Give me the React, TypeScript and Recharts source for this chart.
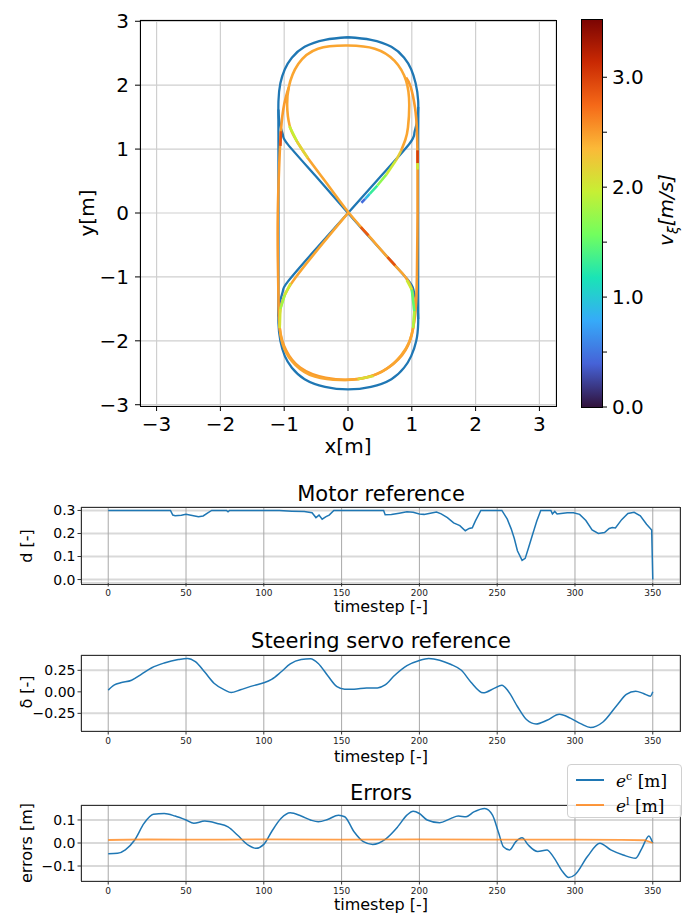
import React from "react";
import { LineChart, Line, BarChart, Bar, XAxis, YAxis, CartesianGrid } from "recharts";

type Pt = [number, number];

const FONT = "'DejaVu Sans', sans-serif";
const BLUE = "#1f77b4";
const ORANGE = "#ff7f0e";

// ---------- xy plot: reference path (blue) ----------
const refLoop: Pt[] = [
  [0, 2.75], [0.36, 2.71], [0.68, 2.6], [0.88, 2.43], [0.99, 2.25], [1.06, 2.03], [1.1, 1.75],
  [1.1, 1.2], [1.1, 0], [1.1, -1.2], [1.1, -1.72], [1.07, -2.0], [0.99, -2.24], [0.88, -2.42],
  [0.68, -2.6], [0.36, -2.72], [0, -2.76], [-0.36, -2.72], [-0.68, -2.6],
  [-0.88, -2.42], [-0.99, -2.24], [-1.06, -2.0], [-1.09, -1.72], [-1.09, -1.2],
  [-1.09, 0], [-1.09, 1.2], [-1.09, 1.75], [-1.06, 2.03], [-0.99, 2.25], [-0.88, 2.43],
  [-0.68, 2.6], [-0.36, 2.71], [0, 2.75],
];
const refDiagA: Pt[] = [
  [-1.09, 1.62], [-1.07, 1.4], [-1.02, 1.22], [-0.94, 1.07], [-0.5, 0.57], [0, 0],
  [0.5, -0.56], [0.94, -1.05], [1.03, -1.22], [1.08, -1.42], [1.1, -1.66],
];
const refDiagB: Pt[] = [
  [-1.09, -1.62], [-1.07, -1.4], [-1.02, -1.22], [-0.94, -1.07], [-0.5, -0.56], [0, 0],
  [0.5, 0.56], [0.96, 1.08], [1.04, 1.25], [1.08, 1.42], [1.1, 1.66],
];

// ---------- xy plot: driven trajectory, with speed v [m/s] ----------
const trajFigure8: Pt[] = [
  [0.83, 0.97], [0.9, 1.15], [0.94, 1.34], [0.96, 1.7], [0.91, 2.07], [0.73, 2.38], [0.42, 2.57],
  [0, 2.62], [-0.47, 2.57], [-0.78, 2.33], [-0.93, 1.96], [-0.95, 1.6], [-0.9, 1.32],
  [-0.8, 1.12], [-0.63, 0.86], [-0.3, 0.42], [0, 0.02], [0.31, -0.34], [0.68, -0.76],
  [0.89, -0.99], [1.0, -1.2], [1.04, -1.54], [1.02, -1.8], [0.96, -2.02], [0.83, -2.23],
  [0.52, -2.49], [0, -2.61], [-0.52, -2.56], [-0.83, -2.37], [-1.0, -2.12], [-1.07, -1.8],
  [-1.06, -1.5], [-0.99, -1.28], [-0.83, -1.02], [-0.4, -0.48], [0, 0],
];
const trajOuter: Pt[] = [
  [-0.93, 1.96], [-1.0, 1.7], [-1.05, 1.3], [-1.08, 0.7], [-1.1, 0], [-1.1, -0.7],
  [-1.09, -1.3], [-1.07, -1.8], [-0.97, -2.15], [-0.75, -2.42], [-0.35, -2.58], [0.15, -2.6],
  [0.55, -2.47], [0.85, -2.22], [1.0, -1.9], [1.06, -1.5], [1.08, -1.0], [1.09, 0],
  [1.09, 0.8], [1.08, 1.3], [1.05, 1.65], [0.98, 1.98], [0.91, 2.12],
];
const trajFigure8Speed = 2.45;
const trajOuterSpeed = 2.5;

// short pieces where the speed differs from the bulk
const speedPieces: { pts: Pt[]; v: number }[] = [
  { pts: [[0.21, 0.16], [0.27, 0.22]], v: 0.45 },
  { pts: [[0.27, 0.22], [0.34, 0.3]], v: 0.9 },
  { pts: [[0.34, 0.3], [0.46, 0.43]], v: 1.3 },
  { pts: [[0.46, 0.43], [0.6, 0.6]], v: 1.7 },
  { pts: [[0.6, 0.6], [0.75, 0.82]], v: 2.0 },
  { pts: [[0.75, 0.82], [0.83, 0.97]], v: 2.2 },
  { pts: [[-0.92, 1.36], [-0.8, 1.12]], v: 1.95 },
  { pts: [[-0.8, 1.12], [-0.63, 0.86]], v: 2.15 },
  { pts: [[-1.05, 1.28], [-1.06, 1.05]], v: 2.9 },
  { pts: [[1.09, 0.98], [1.09, 0.78]], v: 3.0 },
  { pts: [[1.09, 0.78], [1.09, 0.68]], v: 2.0 },
  { pts: [[0.2, -0.22], [0.32, -0.35]], v: 2.85 },
  { pts: [[0.62, -0.69], [0.74, -0.82]], v: 2.9 },
  { pts: [[0.92, -1.05], [1.0, -1.2]], v: 2.0 },
  { pts: [[1.0, -1.2], [1.04, -1.54]], v: 1.5 },
  { pts: [[1.04, -1.54], [1.02, -1.8]], v: 1.85 },
  { pts: [[-0.9, -1.1], [-0.99, -1.28]], v: 2.0 },
  { pts: [[-0.99, -1.28], [-1.06, -1.5]], v: 1.8 },
  { pts: [[-1.06, -1.5], [-1.07, -1.8]], v: 2.05 },
  { pts: [[0.15, -2.6], [0.4, -2.55]], v: 2.1 },
];

const xyTicks = [-3, -2, -1, 0, 1, 2, 3];
const cbTicks = [0, 0.5, 1, 1.5, 2, 2.5, 3];
const cbMax = 3.53;
const turbo = ["#30123b", "#4662d7", "#36aaf9", "#1ae4b6", "#72fe5e", "#c7ef34", "#fbb938", "#f56918", "#c92903", "#7a0403"];

// ---------- time series ----------
const motorT = [0, 40, 41.5, 43, 47, 50, 54, 58, 61, 64, 66.5, 76, 77, 78, 110, 118, 126, 131, 133.5, 135.5, 137.5, 140, 142, 145, 177, 178, 182, 187, 192, 196, 200, 203, 207, 211, 214, 218, 222, 226, 229.5, 232, 234, 236, 239.5, 253, 256.5, 259, 261, 263, 266, 268, 270, 272.5, 275.5, 278, 284.5, 285.5, 287, 288.5, 291, 295, 299, 303, 307, 311, 315, 319, 322, 324, 326, 330, 334, 338, 342, 346, 349.3, 350];
const motorD = [0.3, 0.3, 0.28, 0.277, 0.279, 0.283, 0.278, 0.273, 0.276, 0.29, 0.3, 0.3, 0.294, 0.3, 0.3, 0.297, 0.295, 0.29, 0.269, 0.28, 0.262, 0.273, 0.28, 0.3, 0.3, 0.281, 0.282, 0.288, 0.294, 0.292, 0.285, 0.283, 0.288, 0.293, 0.285, 0.269, 0.246, 0.234, 0.212, 0.222, 0.225, 0.255, 0.3, 0.3, 0.262, 0.22, 0.178, 0.125, 0.083, 0.092, 0.135, 0.19, 0.255, 0.3, 0.3, 0.285, 0.296, 0.285, 0.287, 0.29, 0.29, 0.283, 0.256, 0.215, 0.2, 0.204, 0.222, 0.226, 0.224, 0.26, 0.287, 0.292, 0.277, 0.24, 0.215, 0.0];

const steerT = [0, 4, 8, 15, 21, 28, 36, 45, 51, 56, 62, 68, 75, 79, 85, 94, 100, 105, 111, 117, 124, 130, 135, 141, 147, 152, 158, 166, 173, 178, 184, 192, 200, 206, 213, 220, 227, 233, 241, 248, 253, 257, 263, 269, 275, 282, 290, 297, 304, 310, 318, 327, 333, 339, 344, 348.5, 350];
const steerV = [0.02, 0.08, 0.105, 0.135, 0.2, 0.28, 0.335, 0.375, 0.388, 0.35, 0.23, 0.1, 0.02, -0.008, 0.025, 0.075, 0.105, 0.145, 0.23, 0.325, 0.375, 0.385, 0.33, 0.19, 0.06, 0.03, 0.03, 0.045, 0.046, 0.08, 0.19, 0.305, 0.365, 0.387, 0.368, 0.32, 0.25, 0.115, -0.012, 0.04, 0.077, 0.01, -0.17, -0.325, -0.373, -0.33, -0.26, -0.305, -0.373, -0.415, -0.35, -0.155, -0.03, 0.008, -0.02, -0.05, 0.0];

const errCT = [0, 6, 11, 17, 23, 29, 36, 43, 50, 55, 62, 70, 77, 83, 90, 95, 100, 105, 111, 117, 124, 130, 135, 141, 148, 152, 158, 164, 170, 178, 186, 192, 196, 200, 205, 213, 220, 225, 230, 235, 242, 247, 251, 254, 258, 262, 266, 270, 276, 282, 286, 292, 296, 300, 308, 316, 323, 331, 339, 343, 347.5, 349, 350];
const errC = [-0.047, -0.045, -0.03, 0.013, 0.085, 0.125, 0.128, 0.117, 0.1, 0.086, 0.095, 0.085, 0.07, 0.035, -0.009, -0.023, -0.006, 0.049, 0.106, 0.131, 0.117, 0.1, 0.092, 0.102, 0.121, 0.114, 0.049, 0.006, -0.006, 0.016, 0.07, 0.121, 0.138, 0.128, 0.1, 0.088, 0.106, 0.117, 0.114, 0.135, 0.15, 0.121, 0.042, -0.016, -0.03, 0.006, 0.023, -0.009, -0.037, -0.03, -0.059, -0.124, -0.15, -0.138, -0.059, -0.001, -0.03, -0.052, -0.066, -0.023, 0.03, 0.016, 0.0];
const errLT = [0, 25, 50, 75, 100, 150, 200, 250, 300, 330, 345, 350];
const errL = [0.013, 0.016, 0.015, 0.015, 0.016, 0.015, 0.016, 0.015, 0.015, 0.014, 0.012, 0.0];

const timeTicks = [0, 50, 100, 150, 200, 250, 300, 350];

// ---------- helpers ----------
const rowsXY = (pts: Pt[]) => pts.map(([x, y]) => ({ x, y }));
const rowsT = (t: number[], v: number[]) => t.map((tt, i) => ({ t: tt, v: v[i] }));
const minus = (s: string) => s.replace("-", "\u2212");

function turboColor(v: number) {
  const f = Math.max(0, Math.min(1, v / cbMax)) * (turbo.length - 1);
  const i = Math.min(turbo.length - 2, Math.floor(f));
  const k = f - i;
  const a = turbo[i], b = turbo[i + 1];
  const ch = (s: string, p: number) => parseInt(s.slice(p, p + 2), 16);
  const mix = [1, 3, 5].map((p) => Math.round(ch(a, p) + (ch(b, p) - ch(a, p)) * k));
  return `rgb(${mix.join(",")})`;
}

function Txt({ x, y, size, rot = 0, family = FONT, children }: any) {
  return (
    <div
      style={{
        position: "absolute",
        left: x,
        top: y,
        transform: `translate(-50%, -50%) rotate(${rot}deg)`,
        fontSize: size,
        fontFamily: family,
        whiteSpace: "nowrap",
        lineHeight: 1,
        color: "#000",
      }}
    >
      {children}
    </div>
  );
}

function Frame({ x, y, w, h, color = "#000" }: any) {
  return (
    <div
      style={{
        position: "absolute",
        left: x,
        top: y,
        width: w,
        height: h,
        border: `1px solid ${color}`,
        boxSizing: "border-box",
        pointerEvents: "none",
      }}
    />
  );
}

function TrajectoryPlot() {
  const tickStyle = { fill: "#000", fontSize: 20, fontFamily: FONT };
  const common = { dataKey: "y", type: "natural" as const, dot: false, activeDot: false, isAnimationActive: false };
  return (
    <LineChart width={570} height={460} margin={{ top: 20, right: 14, left: 0, bottom: 0 }}>
      <CartesianGrid stroke="#cfcfcf" strokeWidth={1.2} />
      <XAxis
        type="number"
        dataKey="x"
        domain={[-3.26, 3.26]}
        ticks={xyTicks}
        allowDataOverflow
        height={54}
        tickSize={5}
        tickMargin={6}
        axisLine={false}
        tickLine={{ stroke: "#000" }}
        tick={tickStyle}
        tickFormatter={(v) => minus(String(v))}
      />
      <YAxis
        type="number"
        domain={[-3.02, 3.02]}
        ticks={xyTicks}
        allowDataOverflow
        width={140}
        tickSize={5}
        tickMargin={6}
        axisLine={false}
        tickLine={{ stroke: "#000" }}
        tick={tickStyle}
        tickFormatter={(v) => minus(String(v))}
      />
      {[refLoop, refDiagA, refDiagB].map((p, i) => (
        <Line key={"r" + i} data={rowsXY(p)} {...common} stroke={BLUE} strokeWidth={2.3} />
      ))}
      <Line data={rowsXY(trajOuter)} {...common} stroke={turboColor(trajOuterSpeed)} strokeWidth={2.6} />
      <Line data={rowsXY(trajFigure8)} {...common} stroke={turboColor(trajFigure8Speed)} strokeWidth={2.6} />
      {speedPieces.map((s, i) => (
        <Line key={"s" + i} data={rowsXY(s.pts)} {...common} type="linear" stroke={turboColor(s.v)} strokeWidth={2.6} />
      ))}
    </LineChart>
  );
}

function ColorBar() {
  return (
    <BarChart
      width={112}
      height={430}
      data={[{ name: "v", hi: cbMax }]}
      margin={{ top: 19, right: 0, left: 6, bottom: 23 }}
      barCategoryGap={0}
      barGap={0}
    >
      <defs>
        <linearGradient id="turboGrad" x1="0" y1="1" x2="0" y2="0">
          {turbo.map((c, i) => (
            <stop key={c} offset={`${(i / (turbo.length - 1)) * 100}%`} stopColor={c} />
          ))}
        </linearGradient>
      </defs>
      <XAxis dataKey="name" hide />
      <YAxis
        orientation="right"
        type="number"
        domain={[0, cbMax]}
        ticks={cbTicks}
        allowDataOverflow
        width={85}
        tickSize={5}
        tickMargin={5}
        axisLine={false}
        tickLine={{ stroke: "#000" }}
        tick={{ fill: "#000", fontSize: 20, fontFamily: FONT }}
        tickFormatter={(v) => (Number.isInteger(v) ? v.toFixed(1) : "")}
      />
      <Bar dataKey="hi" fill="url(#turboGrad)" isAnimationActive={false} />
    </BarChart>
  );
}

function TimePlot({ domain, ticks, fmt, children }: any) {
  return (
    <LineChart width={687} height={109} margin={{ top: 7, right: 7, left: 0, bottom: 0 }}>
      <CartesianGrid vertical={false} stroke="#d9d9d9" strokeWidth={2} />
      <CartesianGrid horizontal={false} stroke="#a8a8a8" strokeWidth={1} />
      <XAxis
        type="number"
        dataKey="t"
        domain={[-17.5, 367.5]}
        ticks={timeTicks}
        allowDataOverflow
        height={26}
        tickSize={3.5}
        tickMargin={3}
        axisLine={false}
        tickLine={{ stroke: "#333" }}
        tick={{ fill: "#222", fontSize: 9, fontFamily: FONT }}
      />
      <YAxis
        type="number"
        domain={domain}
        ticks={ticks}
        allowDataOverflow
        width={81}
        tickSize={3.5}
        tickMargin={2}
        axisLine={false}
        tickLine={{ stroke: "#333" }}
        tick={{ fill: "#000", fontSize: 14, fontFamily: FONT }}
        tickFormatter={(v) => minus(fmt(v))}
      />
      {children}
    </LineChart>
  );
}

export default function App() {
  return (
    <div style={{ position: "absolute", left: 0, top: 0, width: 687, height: 913, background: "#fff", overflow: "hidden" }}>
      <div style={{ position: "absolute", left: 0, top: 0 }}>
        <TrajectoryPlot />
      </div>
      <Frame x={140} y={20} w={417} h={387} />
      <Txt x={348} y={446} size={20}>x[m]</Txt>
      <Txt x={87} y={213} size={20} rot={-90}>y[m]</Txt>

      <div style={{ position: "absolute", left: 575, top: 0 }}>
        <ColorBar />
      </div>
      <Frame x={581} y={19} w={22} h={389} />
      <Txt x={668} y={210} size={20} rot={-90}>
        <i>v</i><sub style={{ fontSize: 14, fontStyle: "italic" }}>ξ</sub><i>[m/s]</i>
      </Txt>

      {/* Motor reference */}
      <Txt x={381} y={494} size={21}>Motor reference</Txt>
      <div style={{ position: "absolute", left: 0, top: 500 }}>
        <TimePlot domain={[-0.015, 0.315]} ticks={[0, 0.1, 0.2, 0.3]} fmt={(v: number) => v.toFixed(1)}>
          <Line data={rowsT(motorT, motorD)} dataKey="v" type="linear" stroke={BLUE} strokeWidth={1.5}
            dot={false} activeDot={false} isAnimationActive={false} />
        </TimePlot>
      </div>
      <Frame x={81} y={507} w={600} h={78} color="#333" />
      <Txt x={381} y={607} size={16}>timestep [-]</Txt>
      <Txt x={27} y={546} size={16} rot={-90}>d [-]</Txt>

      {/* Steering servo reference */}
      <Txt x={381} y={641} size={21}>Steering servo reference</Txt>
      <div style={{ position: "absolute", left: 0, top: 648 }}>
        <TimePlot domain={[-0.455, 0.428]} ticks={[-0.25, 0, 0.25]} fmt={(v: number) => v.toFixed(2)}>
          <Line data={rowsT(steerT, steerV)} dataKey="v" type="monotone" stroke={BLUE} strokeWidth={1.5}
            dot={false} activeDot={false} isAnimationActive={false} />
        </TimePlot>
      </div>
      <Frame x={81} y={655} w={600} h={77} color="#333" />
      <Txt x={381} y={757} size={16}>timestep [-]</Txt>
      <Txt x={27} y={692} size={16} rot={-90}>δ [-]</Txt>

      {/* Errors */}
      <Txt x={381} y={793} size={21}>Errors</Txt>
      <div style={{ position: "absolute", left: 0, top: 798 }}>
        <TimePlot domain={[-0.165, 0.165]} ticks={[-0.1, 0, 0.1]} fmt={(v: number) => v.toFixed(1)}>
          <Line data={rowsT(errCT, errC)} dataKey="v" type="monotone" stroke={BLUE} strokeWidth={1.5}
            dot={false} activeDot={false} isAnimationActive={false} />
          <Line data={rowsT(errLT, errL)} dataKey="v" type="linear" stroke={ORANGE} strokeOpacity={0.75}
            strokeWidth={1.8} dot={false} activeDot={false} isAnimationActive={false} />
        </TimePlot>
      </div>
      <Frame x={81} y={805} w={600} h={77} color="#333" />
      <Txt x={381} y={905} size={16}>timestep [-]</Txt>
      <Txt x={27} y={843} size={16} rot={-90}>errors [m]</Txt>

      {/* legend */}
      <div
        style={{
          position: "absolute",
          left: 567,
          top: 764,
          width: 115,
          height: 54,
          background: "rgba(255,255,255,0.85)",
          border: "1px solid #d0d0d0",
          borderRadius: 4,
          boxSizing: "border-box",
          fontFamily: "'DejaVu Serif', 'Liberation Serif', serif",
          fontSize: 17,
        }}
      >
        {[
          { c: BLUE, sup: "c" },
          { c: ORANGE, sup: "l" },
        ].map((it, i) => (
          <div key={it.sup} style={{ position: "absolute", left: 8, top: 4 + i * 25, display: "flex", alignItems: "center", height: 22 }}>
            <div style={{ width: 28, height: 2, background: it.c, opacity: i === 1 ? 0.8 : 1 }} />
            <span style={{ marginLeft: 12, whiteSpace: "nowrap" }}>
              <i>e</i><sup style={{ fontSize: 11 }}>{it.sup}</sup> [m]
            </span>
          </div>
        ))}
      </div>
    </div>
  );
}
